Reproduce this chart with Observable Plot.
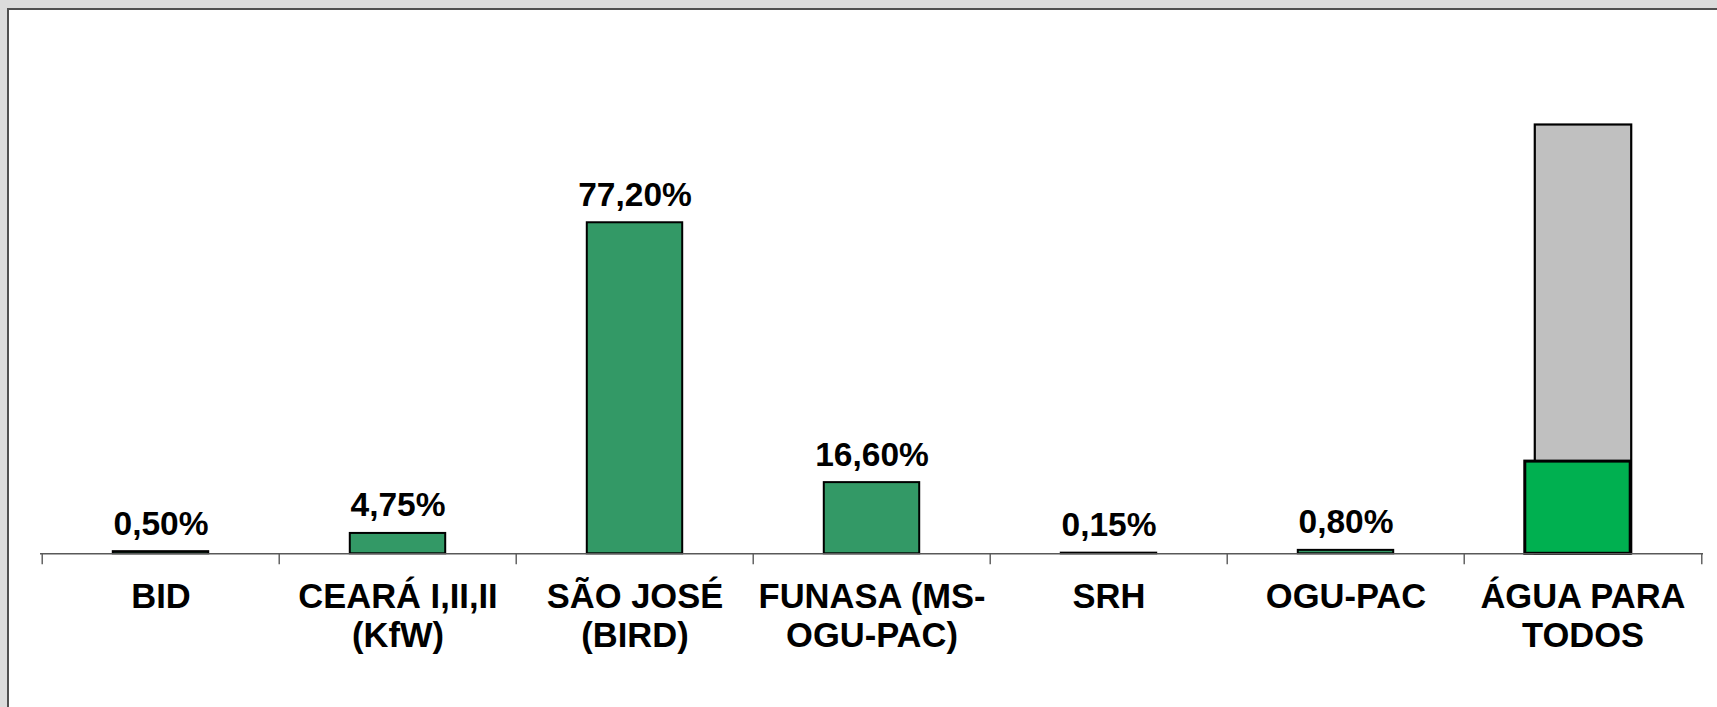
<!DOCTYPE html>
<html>
<head>
<meta charset="utf-8">
<script src="https://cdn.jsdelivr.net/npm/d3@7"></script>
<script src="https://cdn.jsdelivr.net/npm/@observablehq/plot@0.6"></script>
<style>
  html, body { margin: 0; padding: 0; }
  #bg { position: relative; width: 1717px; height: 707px; background: #dcdcdc; overflow: hidden; }
  #panel { position: absolute; left: 7px; top: 8px; width: 1730px; height: 720px; background: #fff;
           border-left: 2px solid #505050; border-top: 2px solid #505050; }
  #chart { position: absolute; left: 0; top: 0; }
</style>
</head>
<body>
<div id="bg"><div id="panel"></div><div id="chart"></div></div>
<script>
// Categories (x axis tick labels, with line breaks as in the original)
const categories = ["BID", "CEARÁ I,II,II\n(KfW)", "SÃO JOSÉ\n(BIRD)", "FUNASA (MS-\nOGU-PAC)", "SRH", "OGU-PAC", "ÁGUA PARA\nTODOS"];
// Share of each programme (%), first six categories
const programmes = ["BID", "CEARÁ I,II,II\n(KfW)", "SÃO JOSÉ\n(BIRD)", "FUNASA (MS-\nOGU-PAC)", "SRH", "OGU-PAC"];
const shares = [0.50, 4.75, 77.20, 16.60, 0.15, 0.80];
// Água para Todos: total (grey) and achieved part (green)
const aguaCategory = "ÁGUA PARA\nTODOS";
const aguaTotal = 100;
const aguaAchieved = 21.5;

const data = programmes.map((c, i) => ({cat: c, value: shares[i]}));
const fmt = v => v.toFixed(2).replace(".", ",") + "%";

const W = 1717, H = 707, mL = 40, mR = 14, mT = 124.5, mB = 153.7;
const step = (W - mL - mR) / categories.length;
const barInset = (step - 96) / 2;

const chart = Plot.plot({
  width: W, height: H,
  marginLeft: mL, marginRight: mR, marginTop: mT, marginBottom: mB,
  style: {fontFamily: "'Liberation Sans', Arial, sans-serif", fontSize: "34px", fontWeight: "bold", background: "transparent", color: "#000", overflow: "visible"},
  x: {domain: categories, type: "band", padding: 0, axis: null},
  y: {domain: [0, 100], axis: null},
  marks: [
    Plot.barY(data, {x: "cat", y: "value", fill: "#339966", stroke: "#000", strokeWidth: 2, insetLeft: barInset, insetRight: barInset}),
    Plot.barY([{cat: aguaCategory, value: aguaTotal}], {x: "cat", y: "value", fill: "#c0c0c0", stroke: "#000", strokeWidth: 2.2, insetLeft: barInset, insetRight: barInset - 1}),
    Plot.barY([{cat: aguaCategory, value: aguaAchieved}], {x: "cat", y: "value", fill: "#00b050", stroke: "#000", strokeWidth: 3, insetLeft: barInset - 10, insetRight: barInset}),
    Plot.ruleY([0], {stroke: "#595959", strokeWidth: 1.4}),
    Plot.ruleX(categories, {x: d => d, y1: 0, y2: 0, insetBottom: -11, dx: -step / 2, stroke: "#595959", strokeWidth: 1.4}),
    Plot.ruleX([categories[categories.length - 1]], {x: d => d, y1: 0, y2: 0, insetBottom: -11, dx: step / 2, stroke: "#595959", strokeWidth: 1.4}),
    Plot.text(data, {x: "cat", y: "value", text: d => fmt(d.value), lineAnchor: "bottom", dy: -17, fontSize: 33.5, fill: "#000"}),
    Plot.axisX({tickSize: 0, tickPadding: 27, lineHeight: 1.12, fontSize: 34.5, label: null, fill: "#000"})
  ]
});
document.getElementById("chart").appendChild(chart);
</script>
</body>
</html>
